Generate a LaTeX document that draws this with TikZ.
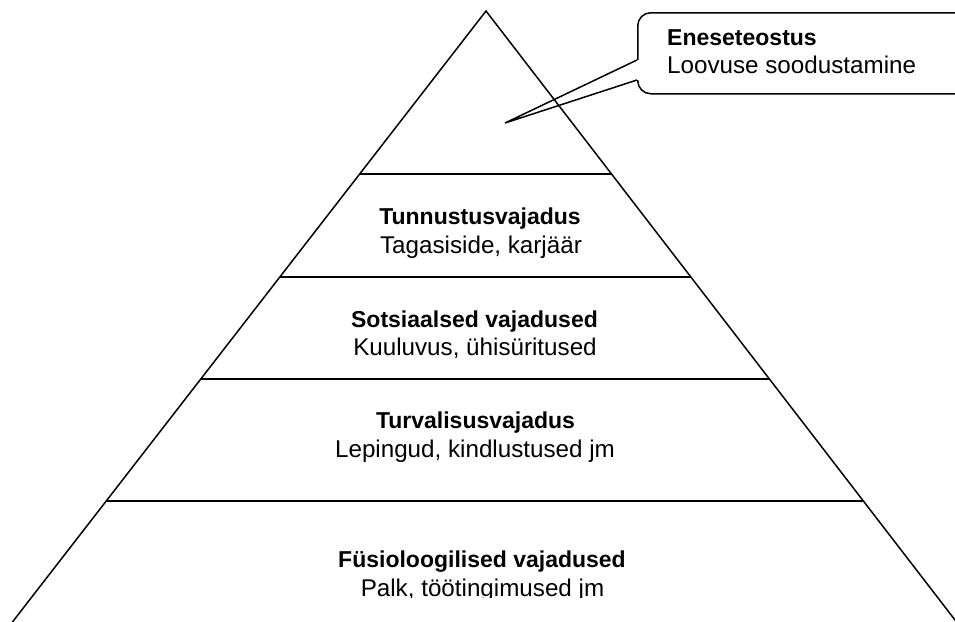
\documentclass[tikz,border=0pt]{standalone}
\usepackage{fontspec}
\setmainfont{Liberation Sans}
\usepackage{xcolor}
\usetikzlibrary{positioning,calc}
\definecolor{ink}{HTML}{000000}

\begin{document}
\begin{tikzpicture}[
  x=1pt, y=-1pt,
  edge/.style={draw=ink, line width=1.5pt},
  level/.style={draw=ink, line width=1.4pt},
  title/.style={anchor=base, inner sep=0pt, font=\fontsize{23}{27}\selectfont\bfseries},
  sub/.style={anchor=base, inner sep=0pt, font=\fontsize{24.2}{28}\selectfont},
  bubble/.style={
    rectangle, rounded corners=13pt,
    draw=ink, line width=1.5pt, fill=white,
    minimum width=400pt, minimum height=81pt, anchor=north west
  }
]
\useasboundingbox (0,0) rectangle (955,621);
\clip (0,0) rectangle (955,621);

% Callout with pointer
\node[bubble] (callout) at (637,12) {};
\coordinate (tip) at (505,123);
\fill[white] ($(callout.north west)+(0,48)$) -- (tip) -- ($(callout.north west)+(0,68)$)
  -- ($(callout.north west)+(3,68)$) -- ($(callout.north west)+(3,48)$) -- cycle;
\draw[edge] ($(callout.north west)+(0,48)$) -- (tip) -- ($(callout.north west)+(0,68)$);
\node[title, anchor=base west] (selfname) at (667,45) {Eneseteostus};
\node[sub, anchor=base west] (selfsub) at (667,73) {Loovuse soodustamine};

% Pyramid
\coordinate (apex)  at (486,11);
\coordinate (left)  at (14,620);
\coordinate (right) at (955,620);
\draw[edge] ($(apex)!1.05!(left)$) -- (apex) -- ($(apex)!1.05!(right)$);
\foreach \t in {0.2677,0.4368,0.6043,0.8046}
  \draw[level] ($(apex)!\t!(left)$) -- ($(apex)!\t!(right)$);

% Levels
\node[title] (esteem)    at (480,224)   {Tunnustusvajadus};
\node[sub]   (esteemsub) at (481,253)   {Tagasiside, karjäär};
\node[title] (social)    at (474.5,327) {Sotsiaalsed vajadused};
\node[sub]   (socialsub) at (475,355)   {Kuuluvus, ühisüritused};
\node[title] (safety)    at (475.5,428) {Turvalisusvajadus};
\node[sub]   (safetysub) at (475,457)   {Lepingud, kindlustused jm};
\node[title] (basic)     at (482,567)   {Füsioloogilised vajadused};
\begin{scope}
  \clip (0,0) rectangle (955,597);
  \node[sub] (basicsub) at (482.5,596) {Palk, töötingimused jm};
\end{scope}

\end{tikzpicture}
\end{document}
